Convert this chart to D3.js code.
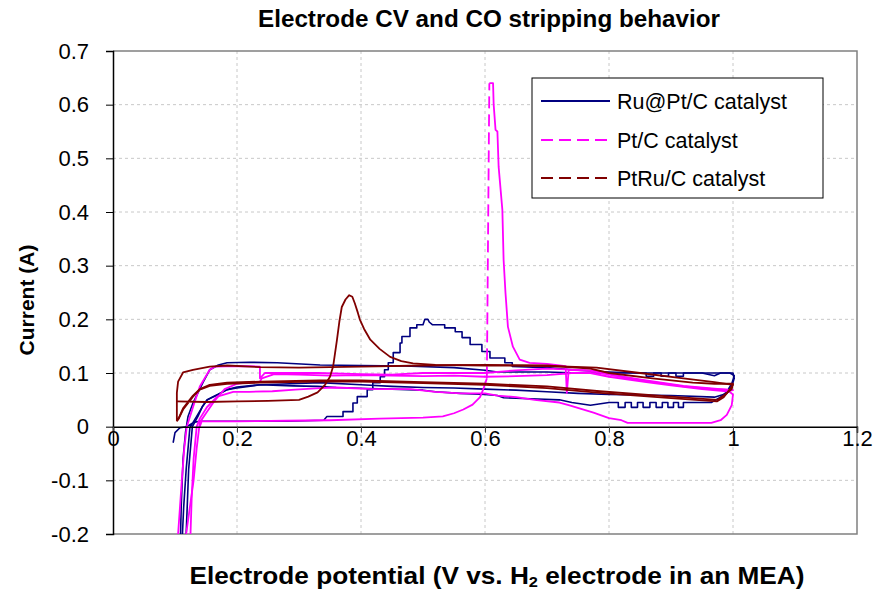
<!DOCTYPE html>
<html><head><meta charset="utf-8">
<script src="https://cdn.jsdelivr.net/npm/d3@7"></script>
<style>body{margin:0;background:#fff;} svg{display:block;font-family:"Liberation Sans",Arial,sans-serif;}</style>
</head><body><svg id="c" width="875" height="590"></svg>
<script>
// ---------- data ----------
const xTicks = [0, 0.2, 0.4, 0.6, 0.8, 1, 1.2];
const yTicks = [-0.2, -0.1, 0, 0.1, 0.2, 0.3, 0.4, 0.5, 0.6, 0.7];
const seriesNames = ["Ru@Pt/C catalyst", "Pt/C catalyst", "PtRu/C catalyst"];

// Ru@Pt/C : CO stripping scan + return
const ruPtScan1 = [[0.097,-0.03],[0.1,-0.011],[0.108,-0.002],[0.119,0.0],[0.13,0.008],[0.14,0.01],[0.2,0.01],[0.28,0.01],[0.34,0.012],[0.345,0.019],[0.371,0.019],[0.371,0.028],[0.387,0.028],[0.387,0.044],[0.394,0.044],[0.394,0.056],[0.41,0.056],[0.41,0.069],[0.419,0.069],[0.419,0.082],[0.431,0.082],[0.431,0.093],[0.438,0.093],[0.438,0.106],[0.444,0.106],[0.444,0.119],[0.452,0.119],[0.452,0.138],[0.463,0.138],[0.463,0.156],[0.466,0.156],[0.466,0.168],[0.479,0.168],[0.479,0.184],[0.49,0.184],[0.49,0.19],[0.5,0.19],[0.503,0.2],[0.508,0.2],[0.51,0.195],[0.515,0.19],[0.535,0.19],[0.535,0.184],[0.552,0.184],[0.552,0.177],[0.563,0.177],[0.563,0.166],[0.576,0.166],[0.576,0.153],[0.595,0.153],[0.595,0.14],[0.608,0.14],[0.608,0.128],[0.632,0.128],[0.632,0.119],[0.644,0.119],[0.644,0.112],[0.7,0.11],[0.75,0.105],[0.8,0.102],[0.85,0.1],[0.9,0.1],[0.95,0.1],[0.995,0.1],[1.002,0.095],[0.998,0.08],[0.99,0.065],[0.98,0.055],[0.965,0.045],[0.92,0.045],[0.92,0.036],[0.912,0.036],[0.912,0.045],[0.904,0.045],[0.904,0.036],[0.895,0.036],[0.895,0.045],[0.886,0.045],[0.886,0.036],[0.876,0.036],[0.876,0.045],[0.866,0.045],[0.866,0.036],[0.855,0.036],[0.855,0.045],[0.846,0.045],[0.846,0.036],[0.836,0.036],[0.836,0.045],[0.826,0.045],[0.826,0.036],[0.815,0.036],[0.815,0.045],[0.8,0.045],[0.77,0.04],[0.74,0.045],[0.72,0.05],[0.65,0.053],[0.63,0.054],[0.62,0.058],[0.6,0.06],[0.56,0.062],[0.52,0.065],[0.5,0.068],[0.45,0.07],[0.41,0.071],[0.36,0.073],[0.33,0.075],[0.29,0.076],[0.237,0.078],[0.2,0.074],[0.184,0.069],[0.17,0.06],[0.152,0.05],[0.144,0.037],[0.135,0.019],[0.124,-0.002],[0.118,-0.08],[0.114,-0.15],[0.112,-0.2],[0.111,-0.25]];
// Ru@Pt/C : CV scan
const ruPtScan2 = [[0.108,-0.25],[0.11,-0.15],[0.113,-0.06],[0.117,-0.01],[0.121,0.019],[0.129,0.044],[0.137,0.063],[0.145,0.082],[0.156,0.106],[0.17,0.115],[0.184,0.119],[0.22,0.12],[0.265,0.119],[0.334,0.115],[0.4,0.114],[0.47,0.113],[0.55,0.11],[0.6,0.105],[0.62,0.102],[0.65,0.102],[0.7,0.102],[0.75,0.1],[0.8,0.1],[0.86,0.1],[0.86,0.094],[0.872,0.094],[0.872,0.1],[0.884,0.1],[0.884,0.094],[0.896,0.094],[0.896,0.1],[0.908,0.1],[0.908,0.094],[0.92,0.094],[0.92,0.1],[0.95,0.1],[0.97,0.095],[0.98,0.1],[1.0,0.1],[1.002,0.09],[0.998,0.075],[0.99,0.062],[0.97,0.055],[0.9,0.058],[0.8,0.06],[0.75,0.062],[0.7,0.065],[0.65,0.068],[0.6,0.07],[0.55,0.072],[0.5,0.073],[0.45,0.075],[0.4,0.078],[0.334,0.082],[0.265,0.079],[0.237,0.078],[0.2,0.072],[0.184,0.069],[0.16,0.055],[0.152,0.05],[0.144,0.037],[0.137,0.019],[0.128,0.0],[0.122,-0.08],[0.118,-0.2],[0.117,-0.25]];

// Pt/C : CV scan
const ptScan1 = [[0.102,-0.25],[0.105,-0.2],[0.111,-0.1],[0.115,-0.04],[0.119,0.0],[0.13,0.04],[0.14,0.075],[0.156,0.106],[0.165,0.112],[0.2,0.113],[0.237,0.112],[0.237,0.09],[0.245,0.1],[0.26,0.1],[0.33,0.1],[0.4,0.098],[0.45,0.097],[0.5,0.1],[0.55,0.1],[0.6,0.1],[0.65,0.105],[0.7,0.108],[0.77,0.105],[0.8,0.098],[0.86,0.085],[0.92,0.075],[0.97,0.07],[0.99,0.069],[1.0,0.06],[0.998,0.04],[0.99,0.022],[0.98,0.012],[0.965,0.007],[0.9,0.007],[0.83,0.007],[0.82,0.012],[0.8,0.016],[0.775,0.026],[0.755,0.033],[0.735,0.04],[0.72,0.045],[0.68,0.05],[0.65,0.055],[0.62,0.058],[0.6,0.062],[0.56,0.062],[0.52,0.065],[0.48,0.07],[0.42,0.07],[0.36,0.073],[0.334,0.072],[0.294,0.069],[0.257,0.066],[0.22,0.065],[0.194,0.065],[0.168,0.056],[0.152,0.037],[0.14,0.015],[0.135,0.0],[0.13,-0.06],[0.127,-0.13],[0.125,-0.2],[0.124,-0.25]];
// Pt/C : CO stripping scan + return
const ptScan2 = [[0.14,0.0],[0.143,0.01],[0.2,0.01],[0.28,0.011],[0.35,0.012],[0.43,0.015],[0.5,0.017],[0.532,0.019],[0.55,0.025],[0.565,0.032],[0.58,0.041],[0.592,0.055],[0.597,0.069],[0.603,0.09],[0.607,0.64],[0.613,0.64],[0.614,0.6],[0.617,0.553],[0.62,0.55],[0.622,0.484],[0.628,0.404],[0.63,0.311],[0.633,0.25],[0.637,0.186],[0.645,0.149],[0.656,0.125],[0.672,0.119],[0.7,0.117],[0.73,0.113],[0.732,0.063],[0.735,0.106],[0.77,0.104],[0.8,0.097],[0.86,0.086],[0.92,0.076],[0.97,0.071],[1.0,0.068],[0.99,0.066],[0.95,0.07],[0.9,0.077],[0.86,0.083],[0.8,0.093],[0.77,0.1],[0.74,0.1],[0.7,0.096],[0.65,0.094],[0.6,0.093],[0.55,0.095],[0.5,0.094],[0.45,0.095],[0.4,0.096],[0.35,0.095],[0.3,0.097],[0.26,0.098],[0.24,0.09],[0.237,0.084],[0.22,0.083],[0.2,0.08],[0.18,0.07],[0.165,0.05],[0.15,0.025],[0.14,0.008],[0.135,-0.04],[0.13,-0.1],[0.118,-0.2],[0.116,-0.25]];

// PtRu/C : CO stripping scan + return
const ptRuScan1 = [[0.103,0.047],[0.15,0.046],[0.2,0.047],[0.25,0.048],[0.3,0.05],[0.315,0.056],[0.33,0.064],[0.342,0.078],[0.35,0.093],[0.355,0.112],[0.361,0.16],[0.365,0.195],[0.369,0.223],[0.375,0.237],[0.381,0.245],[0.386,0.242],[0.39,0.23],[0.395,0.212],[0.398,0.2],[0.405,0.182],[0.415,0.162],[0.43,0.145],[0.447,0.13],[0.465,0.122],[0.484,0.118],[0.52,0.115],[0.6,0.114],[0.7,0.113],[0.78,0.11],[0.85,0.1],[0.92,0.09],[0.97,0.083],[1.0,0.078],[0.995,0.07],[0.985,0.055],[0.974,0.047],[0.9,0.053],[0.785,0.063],[0.7,0.072],[0.6,0.078],[0.5,0.081],[0.4,0.084],[0.334,0.084],[0.237,0.082],[0.184,0.08],[0.156,0.076],[0.14,0.069],[0.129,0.056],[0.113,0.032],[0.106,0.015],[0.103,0.01]];
// PtRu/C : CV scan
const ptRuScan2 = [[0.103,0.01],[0.103,0.063],[0.105,0.084],[0.113,0.101],[0.129,0.106],[0.156,0.112],[0.184,0.114],[0.237,0.111],[0.3,0.11],[0.4,0.112],[0.5,0.114],[0.6,0.115],[0.7,0.114],[0.77,0.108],[0.8,0.1],[0.87,0.09],[0.935,0.082],[0.97,0.08],[1.0,0.08],[0.998,0.07],[0.985,0.058],[0.975,0.05],[0.9,0.056],[0.785,0.066],[0.7,0.075],[0.6,0.08],[0.5,0.083],[0.4,0.086],[0.334,0.086],[0.237,0.084],[0.184,0.082],[0.156,0.078],[0.14,0.07],[0.129,0.058],[0.113,0.034],[0.106,0.016],[0.103,0.012]];

// ---------- chart ----------
const svg = d3.select("#c");
const FONT = '"Liberation Sans",Arial,sans-serif';
const x = d3.scaleLinear().domain([0, 1.2]).range([113, 857]);
const y = d3.scaleLinear().domain([-0.2, 0.7]).range([534, 51]);
const fmt = d => String(+d.toFixed(1));   // plain hyphen minus, like the source

const colors = ["#000080", "#FF00FF", "#800000"];
const dashes = [null, "12,6", "12,6"];
const series = [
  {name: seriesNames[0], color: colors[0], dash: dashes[0], scans: [ruPtScan1, ruPtScan2]},
  {name: seriesNames[1], color: colors[1], dash: dashes[1], scans: [ptScan1, ptScan2]},
  {name: seriesNames[2], color: colors[2], dash: dashes[2], scans: [ptRuScan1, ptRuScan2]}
];

svg.append("defs").append("clipPath").attr("id", "clip")
  .append("rect").attr("x", x(0)).attr("y", y(0.7)).attr("width", x(1.2) - x(0)).attr("height", y(-0.2) - y(0.7));

// gridlines
const grid = svg.append("g");
grid.selectAll(".gx").data(xTicks.filter(d => d > 0 && d < 1.2)).join("line")
  .attr("x1", d => x(d)).attr("x2", d => x(d)).attr("y1", y(0.7)).attr("y2", y(-0.2))
  .attr("stroke", "#c8c8c8").attr("stroke-width", 1).attr("stroke-dasharray", "3,3");
grid.selectAll(".gy").data(yTicks.filter(d => d !== 0 && d > -0.2 && d < 0.7)).join("line")
  .attr("x1", x(0)).attr("x2", x(1.2)).attr("y1", d => y(d)).attr("y2", d => y(d))
  .attr("stroke", "#c8c8c8").attr("stroke-width", 1).attr("stroke-dasharray", "3,3");

// plot frame (top, right, bottom)
svg.append("path")
  .attr("d", `M${x(0)},${y(0.7)}H${x(1.2)}V${y(-0.2)}H${x(0)}`)
  .attr("fill", "none").attr("stroke", "#808080").attr("stroke-width", 1.5);

// data lines
const line = d3.line().x(d => x(d[0])).y(d => y(d[1]));
const plot = svg.append("g").attr("clip-path", "url(#clip)");
series.forEach(s => {
  s.scans.forEach(pts => {
    if (!s.dash) {
      plot.append("path").attr("d", line(pts)).attr("fill", "none")
        .attr("stroke", s.color).attr("stroke-width", 1.6).attr("stroke-linejoin", "round");
      return;
    }
    // dense segments render solid (as in the source), long jumps show the dash pattern
    let run = [pts[0]];
    for (let i = 1; i < pts.length; i++) {
      const a = pts[i - 1], b = pts[i];
      if (Math.abs(b[1] - a[1]) > 0.15) {
        if (run.length > 1) plot.append("path").attr("d", line(run)).attr("fill", "none")
          .attr("stroke", s.color).attr("stroke-width", 1.8).attr("stroke-linejoin", "round");
        plot.append("path").attr("d", line([a, b])).attr("fill", "none")
          .attr("stroke", s.color).attr("stroke-width", 1.8).attr("stroke-dasharray", s.dash);
        run = [b];
      } else run.push(b);
    }
    if (run.length > 1) plot.append("path").attr("d", line(run)).attr("fill", "none")
      .attr("stroke", s.color).attr("stroke-width", 1.8).attr("stroke-linejoin", "round");
  });
});

// axes
const yAxis = svg.append("g").attr("transform", `translate(${x(0)},0)`)
  .call(d3.axisLeft(y).tickValues(yTicks).tickSize(7).tickPadding(17).tickFormat(fmt));
yAxis.select(".domain").attr("stroke", "#000").attr("stroke-width", 1.5);
yAxis.selectAll(".tick line").attr("stroke", "#000");
yAxis.selectAll("text").attr("font-size", 22).attr("fill", "#000").attr("font-family", FONT);

const xAxis = svg.append("g").attr("transform", `translate(0,${y(0)})`)
  .call(d3.axisBottom(x).tickValues(xTicks).tickSize(6).tickFormat(fmt));
xAxis.select(".domain").attr("stroke", "#000").attr("stroke-width", 1.5);
xAxis.selectAll(".tick line").attr("stroke", "#444");
xAxis.selectAll("text").attr("y", 4).attr("font-size", 22).attr("fill", "#000").attr("font-family", FONT);

// titles
svg.append("text").attr("x", 489).attr("y", 27).attr("text-anchor", "middle")
  .attr("font-size", 23).attr("font-weight", "bold")
  .attr("textLength", 462).attr("lengthAdjust", "spacingAndGlyphs")
  .text("Electrode CV and CO stripping behavior");
svg.append("text").attr("transform", "translate(34,300) rotate(-90)").attr("text-anchor", "middle")
  .attr("font-size", 21).attr("font-weight", "bold").text("Current (A)");
const xt = svg.append("text").attr("x", 497).attr("y", 584).attr("text-anchor", "middle")
  .attr("font-size", 24).attr("font-weight", "bold")
  .attr("textLength", 615).attr("lengthAdjust", "spacingAndGlyphs");
xt.append("tspan").text("Electrode potential (V vs. H");
xt.append("tspan").attr("font-size", 15).attr("dy", 3).text("2");
xt.append("tspan").attr("dy", -3).text(" electrode in an MEA)");

// legend
const lg = svg.append("g");
lg.append("rect").attr("x", 532).attr("y", 78).attr("width", 291).attr("height", 120)
  .attr("fill", "#fff").attr("stroke", "#000").attr("stroke-width", 1);
const rows = [101, 140, 178];
series.forEach((s, i) => {
  lg.append("line").attr("x1", 541).attr("x2", 610).attr("y1", rows[i]).attr("y2", rows[i])
    .attr("stroke", s.color).attr("stroke-width", 1.8).attr("stroke-dasharray", s.dash);
  lg.append("text").attr("x", 617).attr("y", rows[i] + 8).attr("font-size", 21.5).text(s.name);
});
</script></body></html>
